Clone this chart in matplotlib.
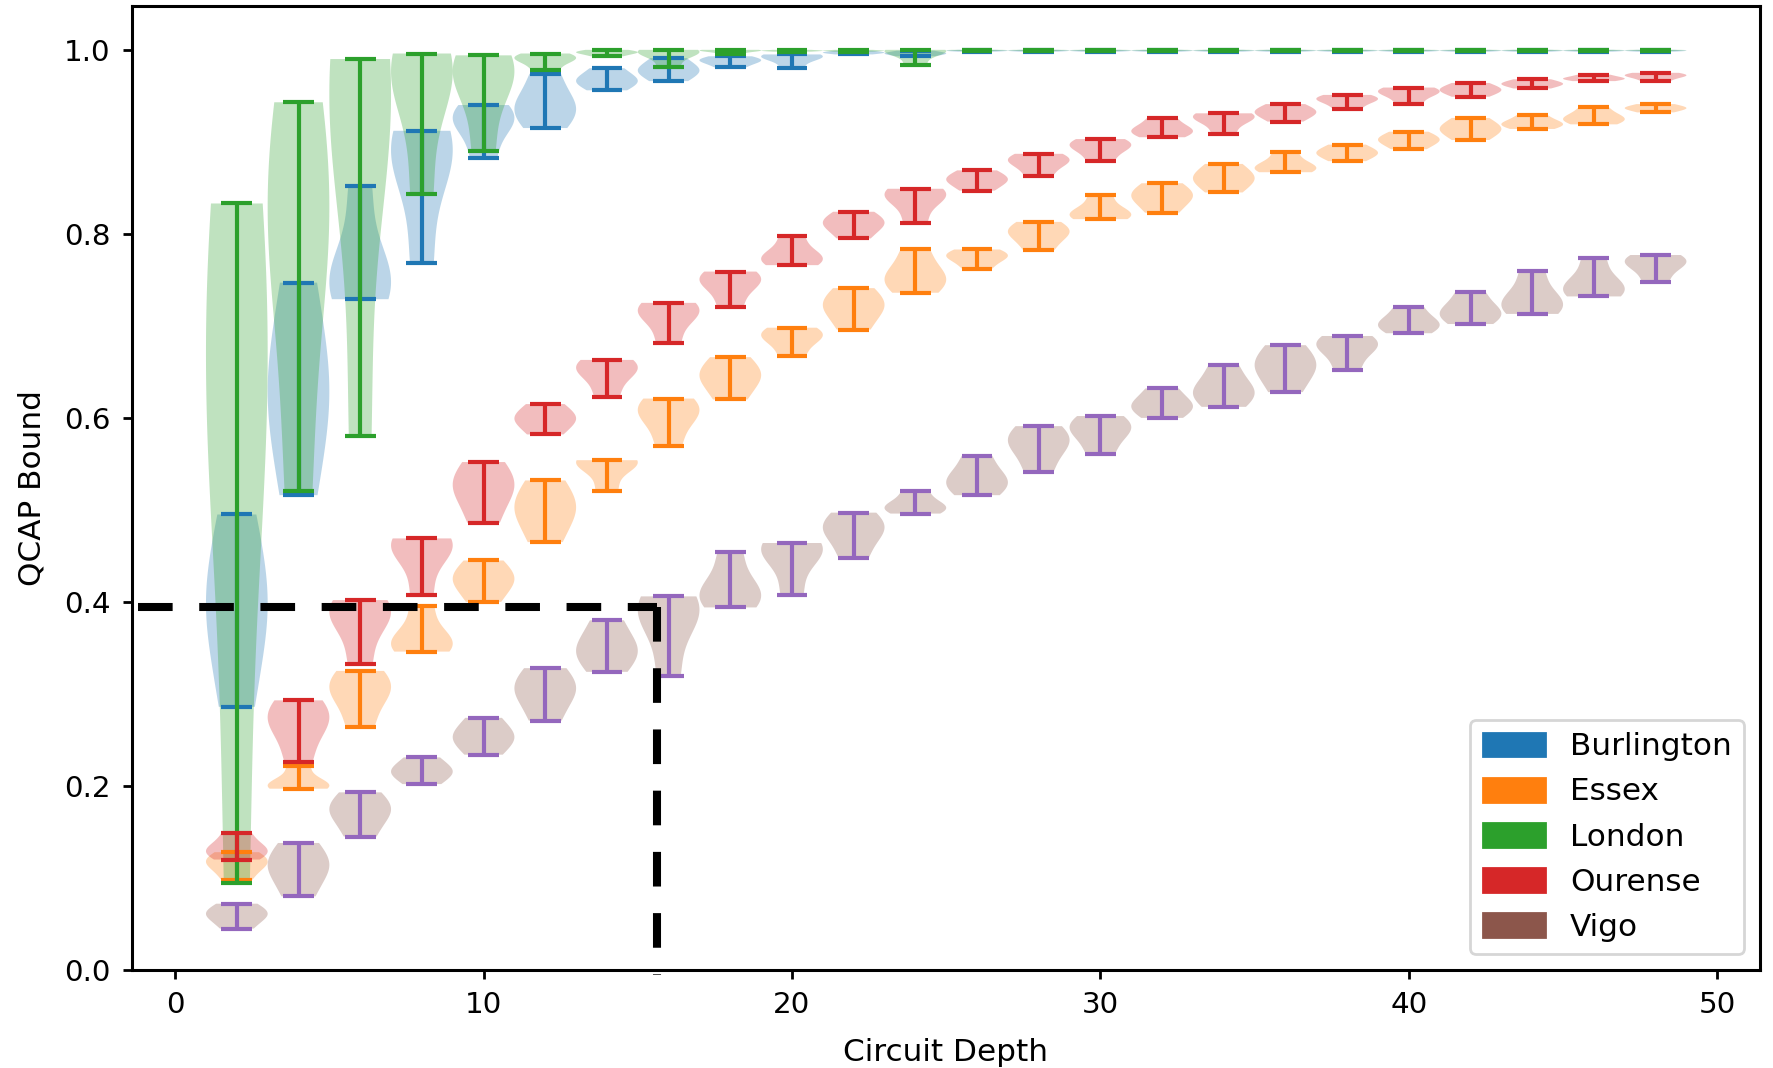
import numpy as np
import matplotlib
matplotlib.use("Agg")
import matplotlib.pyplot as plt
import matplotlib.patches as mpatches

depths = list(range(2, 50, 2))

burl_min = [0.286, 0.516, 0.729, 0.768, 0.882, 0.915, 0.956, 0.966, 0.981, 0.980, 0.995, 0.993,
            0.998, 0.998, 0.998, 0.998, 0.998, 0.998, 0.998, 0.998, 0.998, 0.998, 0.998, 0.998]
burl_mode = [0.395, 0.630, 0.754, 0.884, 0.922, 0.939, 0.967, 0.978, 0.988, 0.992, 0.997, 0.996,
             0.999, 0.999, 0.999, 0.999, 0.999, 0.999, 0.999, 0.999, 0.999, 0.999, 0.999, 0.999]
burl_max = [0.495, 0.747, 0.852, 0.912, 0.940, 0.974, 0.980, 0.991, 0.993, 0.995, 0.999, 0.999,
            1.0, 1.0, 1.0, 1.0, 1.0, 1.0, 1.0, 1.0, 1.0, 1.0, 1.0, 1.0]

essex_min = [0.098, 0.197, 0.264, 0.346, 0.400, 0.465, 0.521, 0.569, 0.620, 0.667, 0.696, 0.736,
             0.762, 0.782, 0.816, 0.823, 0.845, 0.867, 0.879, 0.892, 0.902, 0.914, 0.919, 0.932]
essex_mode = [0.116, 0.2015, 0.3035, 0.3576, 0.424, 0.501, 0.551, 0.605, 0.645, 0.688, 0.721, 0.7536,
              0.775, 0.8007, 0.8225, 0.8406, 0.8605, 0.873, 0.888, 0.902, 0.914, 0.920, 0.926, 0.9366]
essex_max = [0.128, 0.222, 0.325, 0.396, 0.445, 0.532, 0.554, 0.621, 0.666, 0.698, 0.741, 0.783,
             0.783, 0.813, 0.842, 0.855, 0.876, 0.889, 0.897, 0.911, 0.926, 0.929, 0.938, 0.941]

london_min = [0.095, 0.521, 0.580, 0.843, 0.890, 0.978, 0.993, 0.981, 0.995, 0.998, 0.998, 0.984,
              0.9985, 0.9985, 0.9985, 0.9985, 0.9985, 0.9985, 0.9985, 0.9985, 0.9985, 0.9985, 0.9985, 0.9985]
london_mode = [0.62, 0.80, 0.94, 0.97, 0.971, 0.99, 0.997, 0.997, 0.999, 0.999, 0.999, 0.998,
               0.9995, 0.9995, 0.9995, 0.9995, 0.9995, 0.9995, 0.9995, 0.9995, 0.9995, 0.9995, 0.9995, 0.9995]
london_max = [0.833, 0.943, 0.990, 0.996, 0.994, 0.996, 1.0, 1.0, 1.0, 1.0, 1.0, 1.0,
              1.0, 1.0, 1.0, 1.0, 1.0, 1.0, 1.0, 1.0, 1.0, 1.0, 1.0, 1.0]

ourense_min = [0.120, 0.226, 0.332, 0.407, 0.486, 0.582, 0.623, 0.681, 0.720, 0.766, 0.795, 0.812,
               0.847, 0.863, 0.879, 0.905, 0.908, 0.922, 0.936, 0.941, 0.949, 0.958, 0.966, 0.966]
ourense_mode = [0.131, 0.270, 0.385, 0.459, 0.524, 0.599, 0.652, 0.714, 0.748, 0.775, 0.811, 0.8406,
                0.8587, 0.8786, 0.895, 0.913, 0.926, 0.932, 0.9457, 0.9536, 0.9565, 0.963, 0.969, 0.9717]
ourense_max = [0.149, 0.293, 0.402, 0.469, 0.552, 0.615, 0.663, 0.725, 0.759, 0.798, 0.824, 0.849,
               0.869, 0.887, 0.903, 0.926, 0.931, 0.941, 0.951, 0.959, 0.964, 0.968, 0.973, 0.975]

vigo_min = [0.045, 0.080, 0.145, 0.202, 0.234, 0.271, 0.324, 0.320, 0.394, 0.408, 0.448, 0.496,
            0.516, 0.541, 0.561, 0.600, 0.612, 0.628, 0.652, 0.692, 0.702, 0.713, 0.732, 0.748]
vigo_mode = [0.060, 0.112, 0.1724, 0.216, 0.2535, 0.3035, 0.349, 0.3866, 0.411, 0.455, 0.478, 0.504,
             0.5326, 0.5725, 0.587, 0.614, 0.630, 0.6558, 0.6775, 0.703, 0.7155, 0.7264, 0.7427, 0.768]
vigo_max = [0.072, 0.138, 0.193, 0.231, 0.274, 0.328, 0.380, 0.406, 0.454, 0.464, 0.497, 0.521,
            0.559, 0.591, 0.602, 0.632, 0.657, 0.679, 0.689, 0.721, 0.737, 0.760, 0.774, 0.777]

names = ["Burlington", "Essex", "London", "Ourense", "Vigo"]
body_colors = ["#1f77b4", "#ff7f0e", "#2ca02c", "#d62728", "#8c564b"]
line_colors = ["#1f77b4", "#ff7f0e", "#2ca02c", "#d62728", "#9467bd"]

threshold_depth = 15.62
threshold_bound = 0.394

fig = plt.figure(figsize=(1773 / 200, 1068 / 200), dpi=200)
ax = fig.add_axes([0.0746, 0.0918, 0.9178, 0.9029])

series = [
    (burl_min, burl_mode, burl_max),
    (essex_min, essex_mode, essex_max),
    (london_min, london_mode, london_max),
    (ourense_min, ourense_mode, ourense_max),
    (vigo_min, vigo_mode, vigo_max),
]

for (mn, md, mx), bc, lc in zip(series, body_colors, line_colors):
    data = [[a, m, m, b] for a, m, b in zip(mn, md, mx)]
    parts = ax.violinplot(data, positions=depths, widths=2.0)
    for b in parts["bodies"]:
        b.set_facecolor(bc)
        b.set_edgecolor("none")
        b.set_alpha(0.3)
    for key in ("cmins", "cmaxes", "cbars"):
        parts[key].set_color(lc)
        parts[key].set_linewidth(1.5)

ax.plot([-1.22, threshold_depth], [threshold_bound, threshold_bound],
        color="black", lw=2.9, dashes=(4.3, 3.3), zorder=5)
ax.plot([threshold_depth, threshold_depth], [threshold_bound, -0.006],
        color="black", lw=2.9, dashes=(4.3, 3.3), zorder=5, clip_on=False)

ax.set_xlim(-1.39, 51.37)
ax.set_ylim(0, 1.048)
ax.set_xticks([0, 10, 20, 30, 40, 50])
ax.set_yticks([0.0, 0.2, 0.4, 0.6, 0.8, 1.0])
ax.tick_params(labelsize=10.6, length=3.2, width=1.0, pad=4.5)
for s in ax.spines.values():
    s.set_linewidth(1.1)
ax.set_xlabel("Circuit Depth", fontsize=11.2, labelpad=6.8)
ax.set_ylabel("QCAP Bound", fontsize=11.2, labelpad=6.5)

handles = [mpatches.Patch(color=c, label=n) for n, c in zip(names, body_colors)]
ax.legend(handles=handles, loc="lower right", fontsize=11.2,
          handlelength=2.0, handleheight=0.8, labelspacing=0.52)

fig.savefig("out.png", dpi=200)
